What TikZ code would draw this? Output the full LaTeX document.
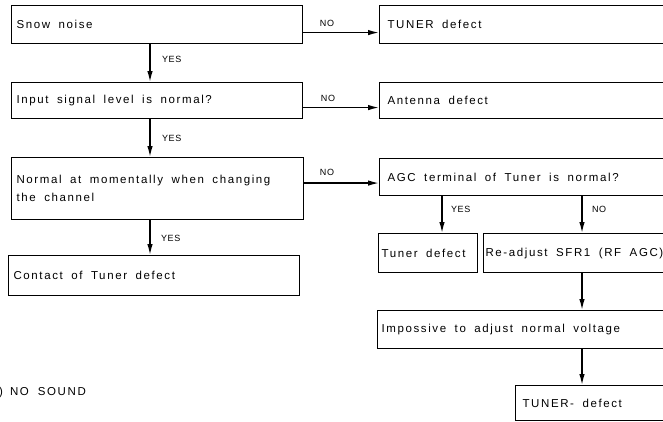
\documentclass[tikz,border=0pt]{standalone}
\usepackage{fontspec}
\setmainfont{Liberation Sans}[LetterSpace=14]
\newfontfamily\labfont{Liberation Sans}[LetterSpace=6]
\usetikzlibrary{arrows.meta}
\begin{document}
\begin{tikzpicture}[x=1pt,y=1pt,
  box/.style={draw, line width=1.1pt, anchor=north west, align=left,
    font=\fontsize{11.5}{13.5}\selectfont, inner ysep=0pt,
    execute at begin node={\spaceskip=8.5pt plus 1pt\relax}},
  arr/.style={line width=1.4pt, -{Latex[length=11pt,width=5.5pt]}},
  lab/.style={font=\labfont\fontsize{9}{10}\selectfont, inner sep=0pt}]
\clip (0,0) rectangle (663,-421);
\useasboundingbox (0,0) rectangle (663,-421);
% left column
\node[box, inner xsep=5pt, text width=281pt, minimum height=38pt] (b1) at (11,-5) {Snow noise};
\node[box, inner xsep=5pt, text width=281pt, minimum height=36pt] (b2) at (11,-82) {Input signal level is normal?};
\node[box, inner xsep=5pt, text width=282pt, minimum height=62pt] (b3) at (11,-157) {Normal at momentally when changing\\[4pt]the channel};
\node[box, inner xsep=5pt, text width=281pt, minimum height=40pt] (b4) at (8,-255) {Contact of Tuner defect};
% right column
\node[box, inner xsep=8pt, text width=284pt, minimum height=38pt] (r1) at (379,-5) {TUNER defect};
\node[box, inner xsep=8pt, text width=284pt, minimum height=36pt] (r2) at (379,-82) {Antenna defect};
\node[box, inner xsep=8pt, text width=284pt, minimum height=37pt] (agc) at (379,-158) {AGC terminal of Tuner is normal?};
\node[box, inner xsep=3pt, text width=93pt, minimum height=39pt] (td) at (378,-233) {Tuner defect};
\node[box, inner xsep=2pt, text width=196pt, minimum height=39pt] (ra) at (483,-233) {Re-adjust SFR1 (RF AGC)};
\node[box, inner xsep=4pt, text width=292pt, minimum height=38pt] (imp) at (377,-310) {Impossive to adjust normal voltage};
\node[box, inner xsep=7pt, text width=146pt, minimum height=35pt] (tn) at (515,-385) {TUNER- defect};
% column coordinates
\coordinate (ax) at (150,0);
\coordinate (yx) at (442,0);
\coordinate (nx) at (582,0);
\coordinate (agcin) at ([yshift=-6pt]agc.west);
% vertical arrows
\draw[arr] (b1.south -| ax) -- (b2.north -| ax);
\draw[arr] (b2.south -| ax) -- (b3.north -| ax);
\draw[arr] (b3.south -| ax) -- (b4.north -| ax);
\draw[arr] (agc.south -| yx) -- (td.north -| yx);
\draw[arr] (agc.south -| nx) -- (ra.north -| nx);
\draw[arr] (ra.south -| nx) -- (imp.north -| nx);
\draw[arr] (imp.south -| nx) -- (tn.north -| nx);
% horizontal arrows
\draw[arr] ([yshift=-8pt]b1.east) -- ([yshift=-8pt]r1.west);
\draw[arr] ([yshift=-7pt]b2.east) -- ([yshift=-7pt]r2.west);
\draw[arr] (b3.east |- agcin) -- (agcin);
% labels
\node[lab, anchor=west] at (162,-59) {YES};
\node[lab, anchor=west] at (162,-138) {YES};
\node[lab, anchor=west] at (161,-238) {YES};
\node[lab, anchor=west] at (451,-209) {YES};
\node[lab, anchor=west] at (592,-209) {NO};
\node[lab] at (327,-23) {NO};
\node[lab] at (328,-98) {NO};
\node[lab] at (327,-172) {NO};
\node[font=\fontsize{11.5}{13}\selectfont, anchor=west, inner sep=0pt] (title) at (-1,-393) {)\hspace{7pt}NO\hspace{9pt}SOUND};
\end{tikzpicture}
\end{document}
